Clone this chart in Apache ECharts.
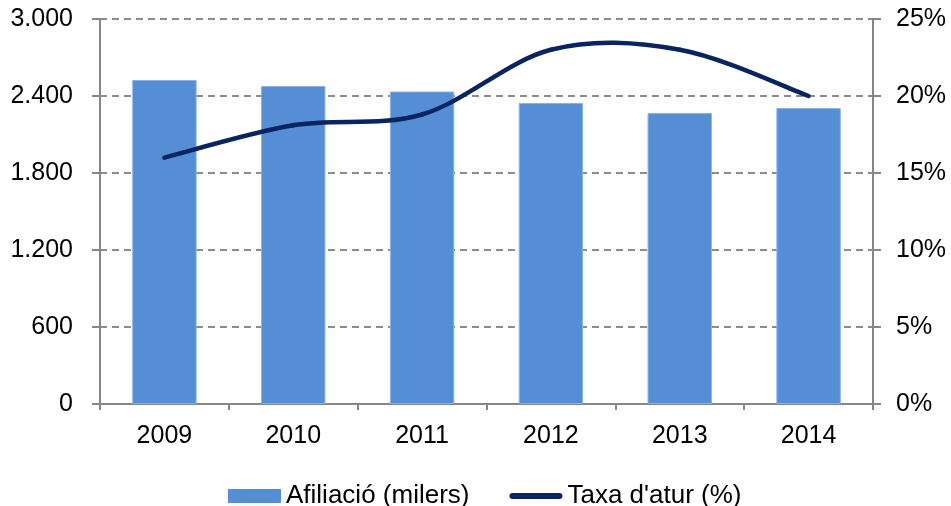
<!DOCTYPE html>
<html>
<head>
<meta charset="utf-8">
<script src="https://cdn.jsdelivr.net/npm/echarts@6/dist/echarts.min.js"></script>
<style>
html, body { margin: 0; padding: 0; background: #fff; }
#chart { width: 951px; height: 506px; }
</style>
</head>
<body>
<div id="chart"></div>
<script>
var years = ['2009', '2010', '2011', '2012', '2013', '2014'];
var afiliacio = [2525, 2478, 2435, 2345, 2268, 2306];
var taxaAtur = [16.0, 18.1, 18.8, 23.0, 23.0, 20.0];

var font = 'Liberation Sans, Arial, sans-serif';
var navy = '#0a2461';
var chart = echarts.init(document.getElementById('chart'));

// Excel-style smoothed line: cubic bezier per segment, control points from neighbours
function renderSmooth(params, api) {
	var i = params.dataIndex;
	var n = taxaAtur.length;
	if (i >= n - 1) return;
	var pt = function (k) {
		k = Math.max(0, Math.min(n - 1, k));
		return api.coord([k, taxaAtur[k]]);
	};
	var p0 = pt(i - 1), p1 = pt(i), p2 = pt(i + 1), p3 = pt(i + 2);
	return {
		type: 'bezierCurve',
		shape: {
			x1: p1[0], y1: p1[1],
			x2: p2[0], y2: p2[1],
			cpx1: p1[0] + (p2[0] - p0[0]) / 6,
			cpy1: p1[1] + (p2[1] - p0[1]) / 6,
			cpx2: p2[0] - (p3[0] - p1[0]) / 6,
			cpy2: p2[1] - (p3[1] - p1[1]) / 6
		},
		style: { stroke: navy, lineWidth: 4.5, fill: null, lineCap: 'round' }
	};
}

var option = {
	animation: false,
	textStyle: { fontFamily: font },
	grid: {
		left: 100,
		right: 78,
		top: 19,
		bottom: 102
	},
	legend: {
		top: 478,
		left: 223,
		itemWidth: 53,
		itemHeight: 14,
		itemGap: 40,
		itemStyle: { borderWidth: 0 },
		textStyle: { color: '#000', fontSize: 26, fontFamily: font },
		data: [
			{ name: 'Afiliació (milers)', icon: 'rect' },
			{ name: "Taxa d'atur (%)", icon: 'path://M3,0 L51,0 A3,3 0 0 1 51,6 L3,6 A3,3 0 0 1 3,0 Z' }
		]
	},
	xAxis: {
		type: 'category',
		data: years,
		axisLine: { lineStyle: { color: '#868686', width: 2 } },
		axisTick: { show: true, length: 6, lineStyle: { color: '#868686', width: 2 } },
		axisLabel: { color: '#000', fontSize: 25, margin: 20, fontFamily: font }
	},
	yAxis: [{
		type: 'value',
		min: 0,
		max: 3000,
		interval: 600,
		axisLine: { show: true, lineStyle: { color: '#868686', width: 2 } },
		axisTick: { show: true, length: 8, lineStyle: { color: '#868686', width: 2 } },
		axisLabel: {
			color: '#000', fontSize: 25, margin: 27, fontFamily: font,
			formatter: function (v) {
				return v >= 1000 ? Math.floor(v / 1000) + '.' + String(v % 1000).padStart(3, '0') : String(v);
			}
		},
		splitLine: { lineStyle: { color: '#8c8c8c', width: 2, type: [7, 5] } }
	}, {
		type: 'value',
		min: 0,
		max: 25,
		interval: 5,
		position: 'right',
		axisLine: { show: true, lineStyle: { color: '#868686', width: 2 } },
		axisTick: { show: true, length: 8, lineStyle: { color: '#868686', width: 2 } },
		axisLabel: { color: '#000', fontSize: 25, margin: 23, fontFamily: font, formatter: '{value}%' },
		splitLine: { show: false }
	}],
	series: [{
		name: 'Afiliació (milers)',
		type: 'bar',
		barWidth: '50%',
		itemStyle: { color: '#558ed5', borderColor: '#8db3e2', borderWidth: 1 },
		data: afiliacio
	}, {
		name: "Taxa d'atur (%)",
		type: 'custom',
		yAxisIndex: 1,
		z: 5,
		itemStyle: { color: navy },
		encode: { x: 0, y: 1 },
		renderItem: renderSmooth,
		data: taxaAtur.map(function (v, i) { return [i, v]; })
	}]
};
chart.setOption(option);
</script>
</body>
</html>
